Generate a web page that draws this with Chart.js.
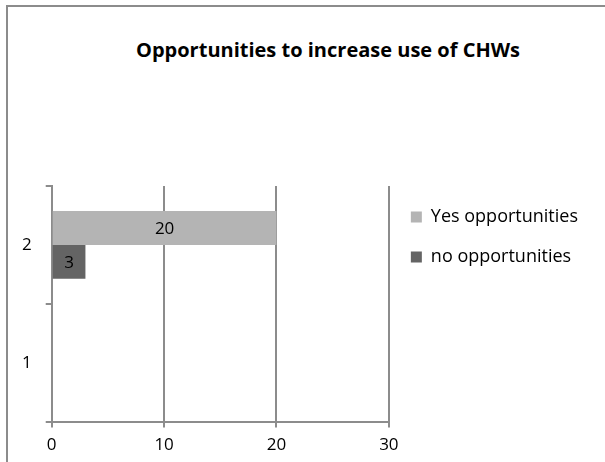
<!DOCTYPE html>
<html>
<head>
  <title>Opportunities to increase use of CHWs</title>
  <script src="https://cdn.jsdelivr.net/npm/chart.js"></script>
  <style>
    body {
      margin: 0;
      font-family: "Open Sans", Arial, sans-serif;
    }

    .frame {
      position: absolute;
      left: 6px;
      top: 5px;
      width: 605px;
      height: 462px;
      border-left: 2px solid #8c8c8c;
      border-top: 2px solid #8c8c8c;
    }

    .title {
      position: absolute;
      left: 78px;
      width: 500px;
      top: 37px;
      line-height: 26px;
      text-align: center;
      font-size: 20px;
      font-weight: bold;
      color: #000;
    }

    .wrap {
      position: absolute;
      left: 0;
      top: 0;
      width: 605px;
      height: 462px;
    }
  </style>
</head>
<body>
  <div class="frame"></div>
  <div class="title">Opportunities to increase use of CHWs</div>
  <div class="wrap"><canvas id="chwChart" width="605" height="462"></canvas></div>

  <script>
    // chart values
    const categories = ['1', '2'];
    const yesOpportunities = [0, 20];
    const noOpportunities = [0, 3];
    const xTicks = [0, 10, 20, 30];

    const gridGray = '#8c8c8c';
    const textFont = { family: 'Open Sans', size: 17 };

    // draw the value in the middle of every bar
    const barLabels = {
      id: 'barLabels',
      afterDatasetsDraw(chart) {
        const ctx = chart.ctx;
        ctx.save();
        ctx.font = '17px "Open Sans"';
        ctx.fillStyle = '#000';
        ctx.textAlign = 'center';
        ctx.textBaseline = 'middle';
        chart.data.datasets.forEach((ds, i) => {
          chart.getDatasetMeta(i).data.forEach((bar, j) => {
            if (!ds.data[j]) return;
            ctx.fillText(ds.data[j], (bar.x + bar.base) / 2, bar.y + 1);
          });
        });
        ctx.restore();
      }
    };

    const ctx = document.getElementById('chwChart').getContext('2d');
    new Chart(ctx, {
      type: 'bar',
      data: {
        labels: categories,
        datasets: [{
          label: 'Yes opportunities',
          data: yesOpportunities,
          backgroundColor: '#b4b4b4'
        }, {
          label: 'no opportunities',
          data: noOpportunities,
          backgroundColor: '#646464'
        }]
      },
      options: {
        indexAxis: 'y',
        responsive: false,
        animation: false,
        categoryPercentage: 0.575,
        barPercentage: 1.0,
        layout: {
          padding: { left: 8, top: 186, right: 17, bottom: 0 }
        },
        plugins: {
          title: { display: false },
          tooltip: { enabled: false },
          legend: {
            position: 'right',
            align: 'start',
            fullSize: false,
            maxWidth: 260,
            labels: {
              boxWidth: 11,
              boxHeight: 11,
              padding: 22,
              color: '#000',
              font: { family: 'Open Sans', size: 18 }
            }
          }
        },
        scales: {
          x: {
            min: 0,
            max: 30,
            afterBuildTicks(axis) {
              axis.ticks = xTicks.map(v => ({ value: v }));
            },
            grid: {
              color: gridGray,
              lineWidth: 2,
              tickLength: 6
            },
            border: { color: gridGray, width: 2 },
            ticks: {
              padding: 7,
              color: '#000',
              font: textFont
            }
          },
          y: {
            reverse: true,
            grid: {
              offset: true,
              drawOnChartArea: false,
              color: gridGray,
              lineWidth: 2,
              tickLength: 6
            },
            border: { color: gridGray, width: 2 },
            ticks: {
              padding: 14,
              color: '#000',
              font: textFont
            }
          }
        }
      },
      plugins: [barLabels]
    });
  </script>
</body>
</html>
